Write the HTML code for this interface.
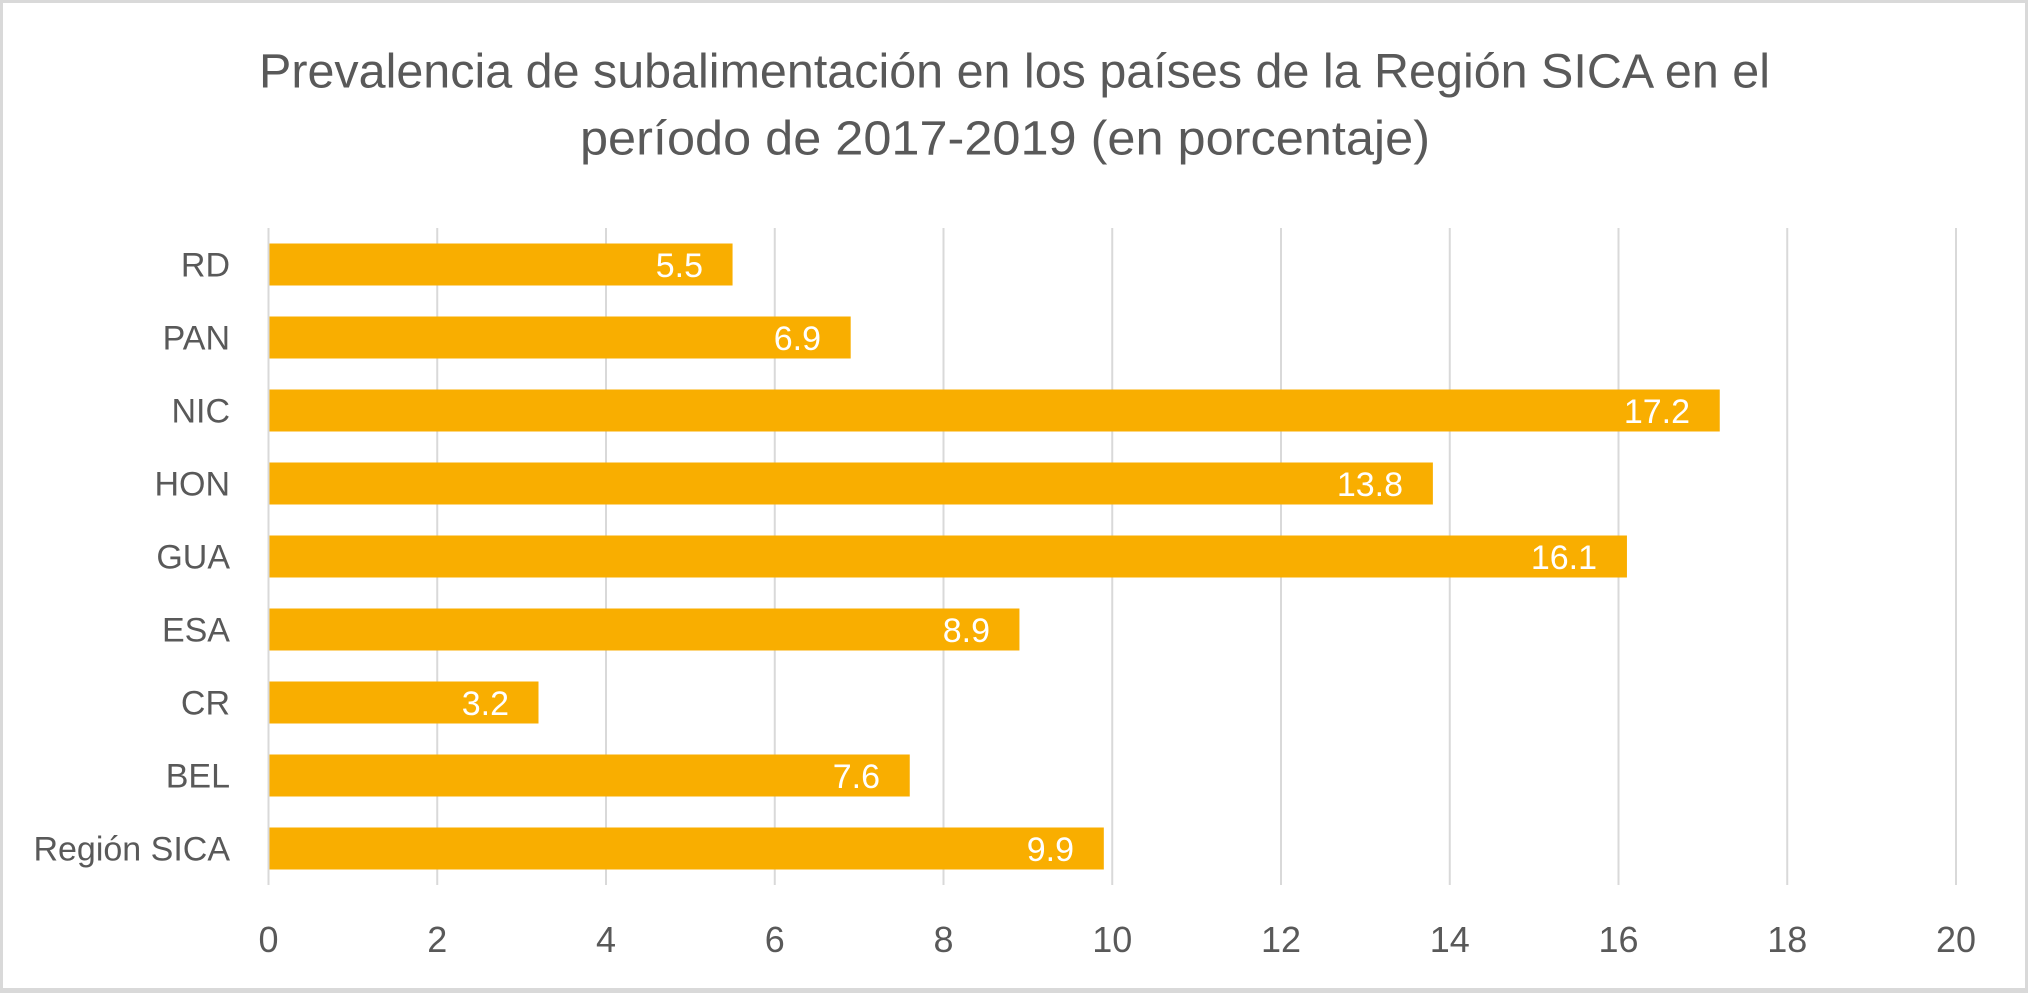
<!DOCTYPE html>
<html>
<head>
<meta charset="utf-8">
<style>
  html, body { margin: 0; padding: 0; background: #ffffff; }
  svg { display: block; }
  text { font-family: "Liberation Sans", "DejaVu Sans", sans-serif; }
</style>
</head>
<body>
<svg width="2028" height="993" viewBox="0 0 2028 993" xmlns="http://www.w3.org/2000/svg">
  <rect x="0" y="0" width="2028" height="993" fill="#ffffff"/>
  <rect x="1.5" y="1.5" width="2025" height="990" fill="none" stroke="#d9d9d9" stroke-width="3"/>
  <rect x="0" y="988" width="2028" height="5" fill="#d9d9d9"/>

  <!-- Title -->
  <text x="259" y="87.5" font-size="48" fill="#595959" textLength="1511" lengthAdjust="spacingAndGlyphs">Prevalencia de subalimentación en los países de la Región SICA en el</text>
  <text x="580" y="154.5" font-size="48" fill="#595959" textLength="850" lengthAdjust="spacingAndGlyphs">período de 2017-2019 (en porcentaje)</text>

  <!-- Gridlines -->
  <g stroke="#d9d9d9" stroke-width="2">
    <line x1="437.25" y1="228" x2="437.25" y2="885"/>
    <line x1="606" y1="228" x2="606" y2="885"/>
    <line x1="774.75" y1="228" x2="774.75" y2="885"/>
    <line x1="943.5" y1="228" x2="943.5" y2="885"/>
    <line x1="1112.25" y1="228" x2="1112.25" y2="885"/>
    <line x1="1281" y1="228" x2="1281" y2="885"/>
    <line x1="1449.75" y1="228" x2="1449.75" y2="885"/>
    <line x1="1618.5" y1="228" x2="1618.5" y2="885"/>
    <line x1="1787.25" y1="228" x2="1787.25" y2="885"/>
    <line x1="1956" y1="228" x2="1956" y2="885"/>
    <line x1="268.5" y1="228" x2="268.5" y2="885"/>
  </g>

  <!-- Bars -->
  <g fill="#f9ae00">
    <rect x="269.5" y="243.5" width="463.06" height="42"/>
    <rect x="269.5" y="316.5" width="581.19" height="42"/>
    <rect x="269.5" y="389.5" width="1450.25" height="42"/>
    <rect x="269.5" y="462.5" width="1163.38" height="42"/>
    <rect x="269.5" y="535.5" width="1357.44" height="42"/>
    <rect x="269.5" y="608.5" width="749.94" height="42"/>
    <rect x="269.5" y="681.5" width="269" height="42"/>
    <rect x="269.5" y="754.5" width="640.25" height="42"/>
    <rect x="269.5" y="827.5" width="834.31" height="42"/>
  </g>

  <!-- Data labels -->
  <g fill="#ffffff" font-size="34" text-anchor="end">
    <text x="703" y="277">5.5</text>
    <text x="821" y="350">6.9</text>
    <text x="1690" y="423">17.2</text>
    <text x="1403" y="496">13.8</text>
    <text x="1597" y="569">16.1</text>
    <text x="990" y="642">8.9</text>
    <text x="509" y="715">3.2</text>
    <text x="880" y="788">7.6</text>
    <text x="1074" y="861">9.9</text>
  </g>

  <!-- Category labels -->
  <g fill="#595959" font-size="34" text-anchor="end">
    <text x="230" y="276.5">RD</text>
    <text x="230" y="349.5">PAN</text>
    <text x="230" y="422.5">NIC</text>
    <text x="230" y="495.5">HON</text>
    <text x="230" y="568.5">GUA</text>
    <text x="230" y="641.5">ESA</text>
    <text x="230" y="714.5">CR</text>
    <text x="230" y="787.5">BEL</text>
    <text x="230" y="860.5">Región SICA</text>
  </g>

  <!-- X tick labels -->
  <g fill="#595959" font-size="36" text-anchor="middle">
    <text x="268.5" y="952">0</text>
    <text x="437.25" y="952">2</text>
    <text x="606" y="952">4</text>
    <text x="774.75" y="952">6</text>
    <text x="943.5" y="952">8</text>
    <text x="1112.25" y="952">10</text>
    <text x="1281" y="952">12</text>
    <text x="1449.75" y="952">14</text>
    <text x="1618.5" y="952">16</text>
    <text x="1787.25" y="952">18</text>
    <text x="1956" y="952">20</text>
  </g>
</svg>
</body>
</html>
